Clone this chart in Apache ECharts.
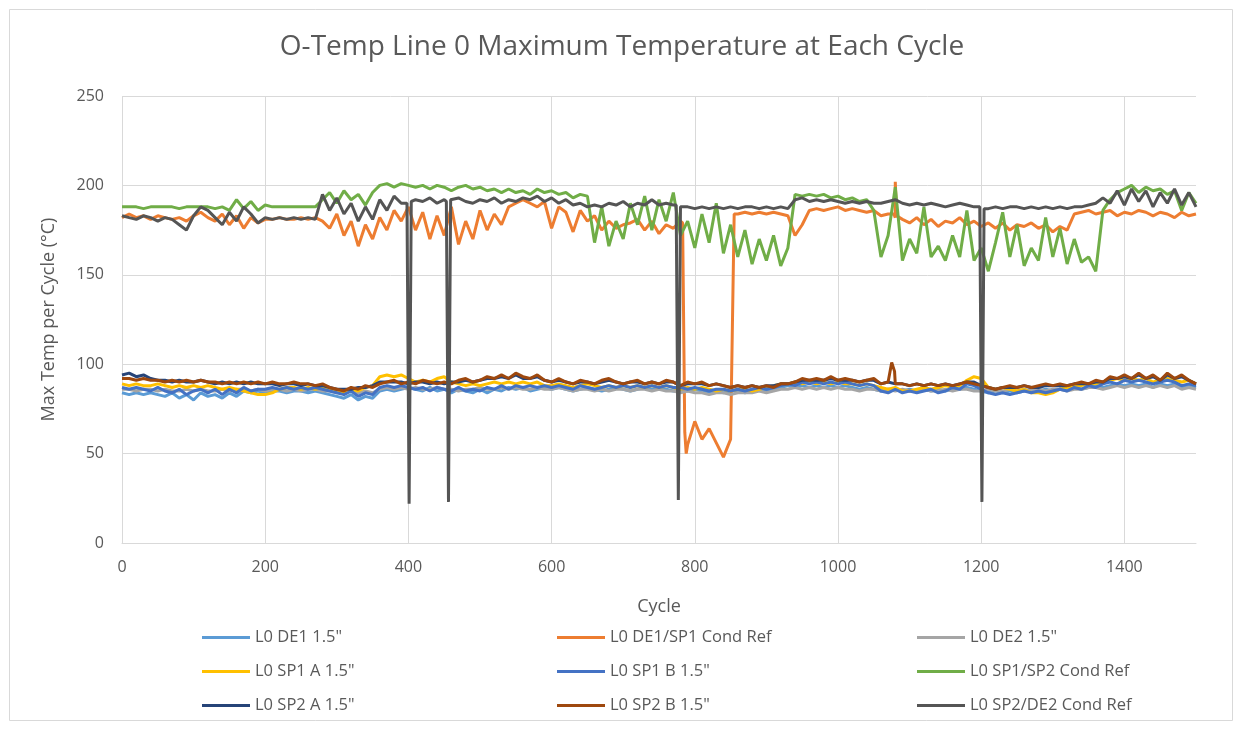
<!DOCTYPE html>
<html>
<head>
<meta charset="utf-8">
<script src="https://cdn.jsdelivr.net/npm/echarts@6/dist/echarts.min.js"></script>
<style>html,body{margin:0;padding:0;background:#fff}#c{width:1244px;height:730px}</style>
</head>
<body>
<div id="c"></div>
<script>
var cycles = [0,10,20,30,40,50,60,70,80,90,100,110,120,130,140,150,160,170,180,190,200,210,220,230,240,250,260,270,280,290,300,310,320,330,340,350,360,370,380,390,400,410,420,430,440,450,460,470,480,490,500,510,520,530,540,550,560,570,580,590,600,610,620,630,640,650,660,670,680,690,700,710,720,730,740,750,760,770,780,790,800,810,820,830,840,850,860,870,880,890,900,910,920,930,940,950,960,970,980,990,1000,1010,1020,1030,1040,1050,1060,1070,1080,1090,1100,1110,1120,1130,1140,1150,1160,1170,1180,1190,1200,1210,1220,1230,1240,1250,1260,1270,1280,1290,1300,1310,1320,1330,1340,1350,1360,1370,1380,1390,1400,1410,1420,1430,1440,1450,1460,1470,1480,1490,1500];

var seriesNames = ['L0 DE1 1.5"','L0 DE1/SP1 Cond Ref','L0 DE2 1.5"','L0 SP1 A 1.5"','L0 SP1 B 1.5"','L0 SP1/SP2 Cond Ref','L0 SP2 A 1.5"','L0 SP2 B 1.5"','L0 SP2/DE2 Cond Ref'];

var de1 = [84,83,84,83,84,83,82,84,81,83,80,84,82,83,81,84,82,85,84,85,84,85,85,84,85,85,84,85,84,83,82,81,83,80,82,81,85,86,85,86,87,86,85,87,85,86,84,86,85,84,86,84,86,85,87,86,87,85,86,87,86,87,86,85,86,87,86,85,86,87,86,85,86,87,86,87,86,85,86,85,86,85,84,85,84,85,85,84,85,86,85,86,87,88,87,88,87,88,87,88,87,88,87,86,87,86,85,86,86,85,86,85,86,85,86,85,86,86,87,86,85,84,85,84,85,84,85,86,85,86,85,86,86,87,86,87,88,87,88,89,88,89,88,89,87,89,88,89,87,88,87];

var de1sp1 = [182,184,182,183,181,183,182,181,182,180,183,185,182,180,184,178,183,176,182,179,181,181,182,181,181,182,181,182,180,176,184,172,180,166,178,170,182,175,186,180,188,175,185,170,183,172,188,167,180,170,186,175,184,178,188,190,192,190,188,191,176,188,185,174,186,180,183,175,180,176,178,179,181,175,180,173,178,176,180,55,68,58,64,56,48,58,184,185,184,185,184,185,184,183,172,178,186,187,186,187,188,186,187,186,185,186,183,184,182,181,179,182,178,181,177,180,179,182,178,180,177,179,176,179,175,178,177,179,176,178,174,177,175,184,185,186,184,185,186,183,185,184,186,185,183,185,184,182,185,183,184];
var de1sp1Extra = [[783,179],[786,62],[788,50],[852,57],[855,184],[1078,184],[1080,202],[1082,183]];

var de2 = [86,86,85,86,86,85,86,85,85,86,85,86,85,85,86,85,86,86,85,86,85,86,86,85,86,85,86,86,85,85,84,84,85,84,85,84,86,87,86,87,86,87,86,86,87,86,86,85,86,86,87,86,86,87,86,87,86,86,87,86,86,87,86,85,86,86,85,86,85,86,86,85,86,86,85,86,85,85,84,85,84,84,83,84,84,83,84,84,84,85,84,85,86,86,87,86,87,86,87,86,87,86,86,85,86,86,85,86,85,86,85,85,86,85,85,86,85,86,86,85,85,86,85,85,86,85,86,85,86,85,86,86,85,86,86,87,87,86,87,88,87,88,87,88,87,88,87,88,86,87,86];

var sp1a = [89,88,89,88,88,89,88,87,88,87,88,87,88,87,86,87,86,85,84,83,83,84,86,87,87,86,87,86,87,86,85,84,86,85,87,88,93,94,93,94,92,90,91,90,92,93,90,89,88,89,88,89,90,89,90,89,90,89,90,88,88,89,88,87,88,89,88,87,88,87,88,87,88,87,88,87,88,87,86,87,86,87,86,85,86,85,86,86,85,86,87,88,89,89,90,89,90,89,90,89,90,89,89,88,89,88,87,86,87,85,85,86,87,86,87,88,87,88,91,93,92,87,86,87,86,85,86,84,84,83,84,86,87,88,88,89,89,90,91,92,91,92,91,92,90,91,92,91,90,91,89];

var sp1b = [87,86,87,86,85,87,85,84,86,83,85,86,84,86,83,86,84,87,85,86,86,87,86,87,86,87,86,87,86,85,84,83,85,82,84,83,87,88,87,88,87,86,87,85,87,86,85,87,85,86,85,87,86,88,86,88,87,88,87,88,87,88,87,86,88,87,86,87,88,87,88,87,88,87,88,87,88,87,87,86,87,86,85,86,86,85,86,85,86,87,86,87,88,89,88,90,89,90,89,90,89,90,89,88,89,88,85,84,86,84,85,84,85,86,84,85,87,86,89,88,86,84,83,84,83,84,85,84,85,84,85,86,85,87,86,88,87,89,90,89,91,90,91,90,89,90,91,90,88,89,88];

var sp1sp2 = [188,188,188,187,188,188,188,188,187,188,188,188,188,187,188,186,192,187,191,186,189,188,188,188,188,188,188,188,192,196,190,197,192,195,189,196,200,201,199,201,200,199,200,198,200,199,197,199,200,198,199,197,198,196,198,196,197,195,198,196,197,195,196,193,195,194,168,188,166,180,170,190,178,194,175,192,180,196,172,180,165,184,168,190,162,178,160,175,156,170,158,172,155,165,195,194,195,194,195,193,194,192,193,191,192,186,160,172,199,158,170,162,188,160,166,158,172,160,186,158,165,152,168,185,160,178,155,165,158,182,160,176,156,170,157,160,152,186,192,196,198,200,196,199,197,198,195,197,186,196,190];

var sp2a = [94,95,93,94,92,91,91,90,91,90,90,91,90,89,90,89,90,89,90,89,89,89,88,89,89,88,89,88,88,87,86,86,86,87,87,88,90,90,90,90,89,90,90,89,90,89,90,90,91,90,91,92,92,93,92,94,92,92,93,91,90,91,90,89,90,90,89,90,91,90,89,90,90,89,90,89,90,90,88,89,89,89,88,89,88,87,88,87,88,87,88,88,89,89,90,91,91,91,91,92,91,91,91,90,91,91,89,90,89,89,88,89,88,89,88,89,88,89,90,90,88,87,86,87,87,87,88,87,87,88,88,88,88,89,89,89,90,90,92,92,93,92,94,92,93,91,94,92,93,91,89];

var sp2b = [92,92,91,92,91,91,90,91,90,91,90,91,90,90,89,90,89,90,89,90,89,90,89,89,90,89,89,88,89,87,86,85,87,86,88,87,89,90,91,89,90,89,91,90,89,90,89,91,92,90,91,93,92,94,92,95,93,92,94,91,90,92,90,89,91,90,89,91,92,90,89,90,91,89,90,89,91,90,88,90,89,90,88,89,88,87,88,87,88,87,88,87,89,89,90,92,91,92,91,93,91,92,91,90,91,92,89,90,89,89,88,89,88,89,88,89,88,89,90,89,88,87,86,87,88,87,88,87,88,89,88,89,88,89,90,89,91,90,93,92,94,92,95,92,94,91,95,92,94,91,89];
var sp2bExtra = [[1075,101],[1077,100],[1079,96]];

var sp2de2 = [183,182,181,183,182,180,182,181,178,175,183,188,186,182,178,185,180,188,184,179,182,181,182,181,182,181,182,181,195,186,193,184,190,180,188,181,192,186,194,190,191,192,191,193,190,192,191,193,191,190,192,191,193,190,192,191,193,192,194,191,193,190,192,189,190,188,189,188,190,189,191,188,190,189,192,189,190,189,188,188,187,188,187,188,187,188,187,188,188,187,188,187,188,187,192,193,191,192,191,192,191,190,191,190,191,190,190,191,192,190,189,190,189,190,189,188,189,190,189,188,188,187,188,187,188,188,187,188,187,188,187,188,187,188,188,189,190,193,190,197,189,198,191,197,188,196,190,198,189,196,188];
var sp2de2Extra = [[398,190],[401,22],[404,191],[453,191],[456,23],[459,192],[774,189],[777,24],[780,188],[1198,188],[1201,23],[1204,187]];

var yTicks = [0,50,100,150,200,250];
var xTicks = [0,200,400,600,800,1000,1200,1400];

var colors = ['#5B9BD5','#ED7D31','#A5A5A5','#FFC000','#4472C4','#70AD47','#264478','#9E480E','#555555'];

function build(vals, extra) {
  var pts = cycles.map(function (c, i) { return [c, vals[i]]; });
  if (extra) pts = pts.concat(extra);
  pts.sort(function (a, b) { return a[0] - b[0]; });
  return pts;
}
var allData = [build(de1), build(de1sp1, de1sp1Extra), build(de2), build(sp1a), build(sp1b), build(sp1sp2), build(sp2a), build(sp2b, sp2bExtra), build(sp2de2, sp2de2Extra)];

var font = '"Open Sans", "Noto Sans", sans-serif';
var txt = '#595959';

var series = seriesNames.map(function (n, i) {
  return {
    name: n, type: 'line', data: allData[i], showSymbol: false, symbol: 'none',
    lineStyle: { width: 3, color: colors[i] }, itemStyle: { color: colors[i] },
    animation: false, z: 2 + i
  };
});

function legendCol(left, names) {
  return {
    orient: 'vertical', left: left, top: 622, itemGap: 13, itemWidth: 48, itemHeight: 3,
    icon: 'rect', data: names, selectedMode: false,
    textStyle: { color: txt, fontSize: 16.5, fontFamily: font, lineHeight: 21 }
  };
}

var chart = echarts.init(document.getElementById('c'));
chart.setOption({
  backgroundColor: '#fff',
  animation: false,
  title: {
    text: 'O-Temp Line 0 Maximum Temperature at Each Cycle', left: 'center', top: 28,
    textStyle: { color: txt, fontSize: 28, fontWeight: 'normal', fontFamily: font }
  },
  graphic: [{ type: 'rect', shape: { x: 9.5, y: 9.5, width: 1223, height: 711 }, style: { fill: 'none', stroke: '#d9d9d9', lineWidth: 1 }, silent: true }],
  legend: [
    legendCol(197, [seriesNames[0], seriesNames[3], seriesNames[6]]),
    legendCol(552, [seriesNames[1], seriesNames[4], seriesNames[7]]),
    legendCol(912, [seriesNames[2], seriesNames[5], seriesNames[8]])
  ],
  grid: { left: 122, right: 48, top: 96, bottom: 187, containLabel: false },
  xAxis: {
    type: 'value', min: 0, max: 1500, interval: 200,
    name: 'Cycle', nameLocation: 'middle', nameGap: 55,
    nameTextStyle: { color: txt, fontSize: 18, fontFamily: font },
    axisLine: { show: true, lineStyle: { color: '#d9d9d9' } },
    axisTick: { show: false },
    axisLabel: { color: txt, fontSize: 16, fontFamily: font, margin: 16, showMaxLabel: false,
      formatter: function (v) { return xTicks.indexOf(v) >= 0 ? String(v) : ''; } },
    splitLine: { show: true, showMaxLine: false, lineStyle: { color: '#d9d9d9' } }
  },
  yAxis: {
    type: 'value', min: 0, max: 250, interval: 50,
    name: 'Max Temp per Cycle (°C)', nameLocation: 'middle', nameGap: 64, nameRotate: 90,
    nameTextStyle: { color: txt, fontSize: 18, fontFamily: font },
    axisLine: { show: false }, axisTick: { show: false },
    axisLabel: { color: txt, fontSize: 16, fontFamily: font, margin: 18,
      formatter: function (v) { return yTicks.indexOf(v) >= 0 ? String(v) : ''; } },
    splitLine: { show: true, lineStyle: { color: '#d9d9d9' } }
  },
  series: series
});
</script>
</body>
</html>
